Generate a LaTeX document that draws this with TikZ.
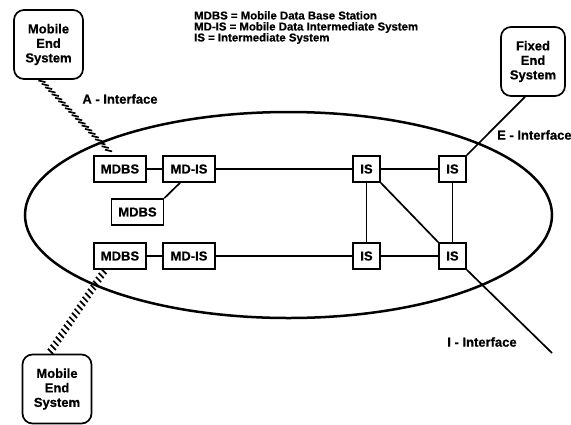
\documentclass[tikz,border=0pt]{standalone}
\usepackage{fontspec}
\setmainfont{Liberation Sans}[BoldFeatures={FakeBold=0.6}]
\usetikzlibrary{decorations.markings}
\begin{document}
\begin{tikzpicture}[x=1pt,y=-1pt,
  box/.style={draw, line width=1.7pt, minimum width=52pt, minimum height=26pt, inner sep=0pt, font=\fontsize{13}{15}\selectfont\bfseries},
  isbox/.style={box, minimum width=27pt},
  endsys/.style={draw, line width=1.7pt, rounded corners=10pt, minimum width=69pt, minimum height=69pt, align=center, inner sep=0pt, font=\fontsize{13}{14.5}\selectfont\bfseries},
  link/.style={line width=1.7pt},
  lbl/.style={font=\fontsize{13}{15}\selectfont\bfseries, inner sep=0pt},
  hatchA/.style={decoration={markings, mark=between positions 0.02 and 0.98 step 4.8pt with {\pgftransformresetnontranslations \draw[line width=1.7pt] (-3.6,-0.9) -- (3.6,0.9);}}, decorate},
  hatchB/.style={decoration={markings, mark=between positions 0.02 and 0.98 step 4.8pt with {\pgftransformresetnontranslations \draw[line width=1.7pt] (-2.6,-2.6) -- (2.6,2.6);}}, decorate}
]
\useasboundingbox (0,0) rectangle (571,424);
\fill[white] (0,0) rectangle (571,424);

\draw[line width=2.5pt] (288.5,215) ellipse [x radius=263.5pt, y radius=103pt];

\node[endsys] (mes1) at (48.5,44.5) {Mobile\\End\\System};
\node[endsys, minimum width=64pt] (fes) at (533,61.5) {Fixed\\End\\System};
\node[endsys] (mes2) at (57,389) {Mobile\\End\\System};

\node[box] (mdbs1) at (120,169) {MDBS};
\node[box] (mdis1) at (189,169) {MD-IS};
\node[box] (mdbs2) at (137.5,212) {MDBS};
\node[box] (mdbs3) at (120,256) {MDBS};
\node[box] (mdis3) at (189,256) {MD-IS};
\node[isbox] (is1) at (366.5,169) {IS};
\node[isbox] (is2) at (452.5,169) {IS};
\node[isbox] (is3) at (366.5,256) {IS};
\node[isbox] (is4) at (452.5,256) {IS};

\coordinate (iend) at (552,353);

\draw[link] (mdbs1) -- (mdis1);
\draw[link] (mdis1) -- (is1);
\draw[link] (is1) -- (is2);
\draw[link] (is1) -- (is3);
\draw[link] (is2) -- (is4);
\draw[link] (is3) -- (is4);
\draw[link] (is1.south east) -- (is4.north west);
\draw[link] (mdbs3) -- (mdis3);
\draw[link] (mdis3) -- (is3);
\draw[link] ([xshift=-9pt]mdis1.south) -- (mdbs2.north east);
\draw[link] (is2.north east) -- ([xshift=-8pt]fes.south);
\draw[link] (is4.south east) -- (iend);

\draw[hatchA] ([xshift=-8pt]mes1.south) -- ([xshift=-7pt]mdbs1.north);
\draw[hatchB] ([xshift=-15pt]mdbs3.south) -- ([xshift=-8pt]mes2.north);

\node[lbl] (alab) at (120,99) {A - Interface};
\node[lbl, anchor=west] (elab) at (497,135) {E - Interface};
\node[lbl] (ilab) at (482,342) {I - Interface};

\node[anchor=north west, align=left, font=\fontsize{11.4}{11}\selectfont\bfseries, inner sep=0pt] (legend) at (194,11) {MDBS = Mobile Data Base Station\\MD-IS = Mobile Data Intermediate System\\IS = Intermediate System};
\end{tikzpicture}
\end{document}
